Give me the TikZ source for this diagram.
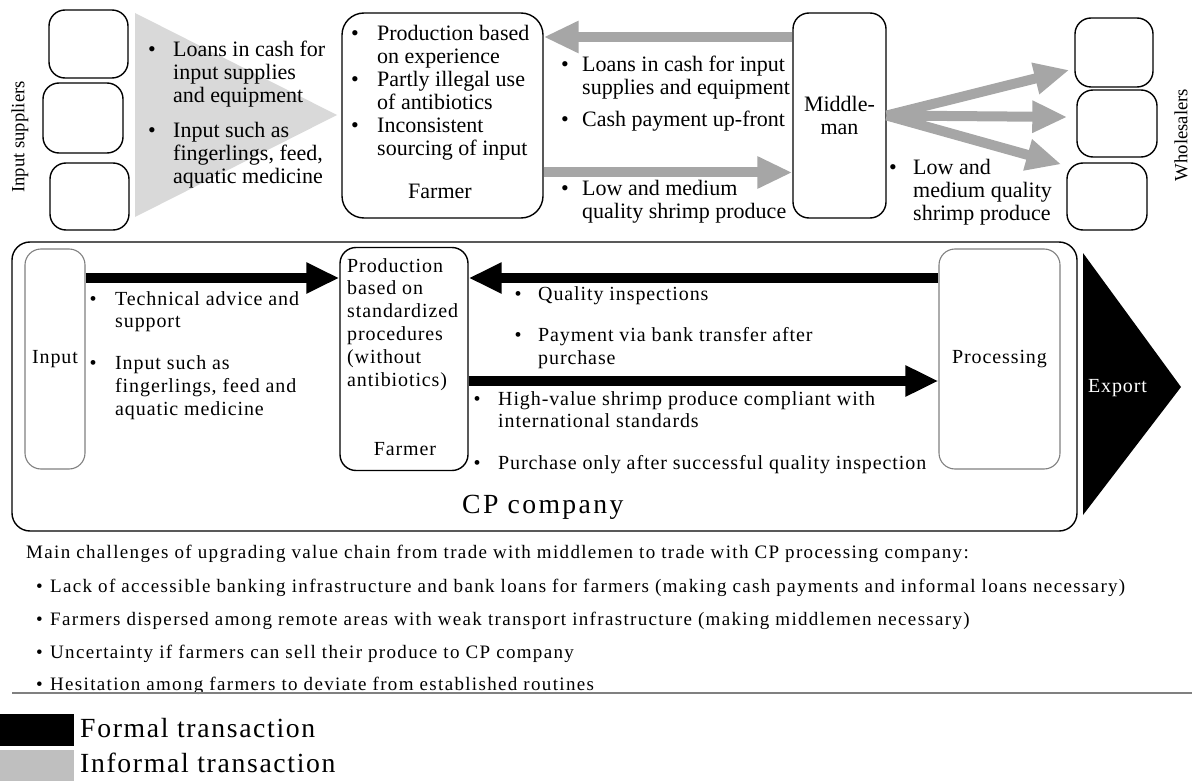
\documentclass[tikz,border=0pt]{standalone}
\usepackage{fontspec}
\setmainfont{Liberation Serif}
\newfontfamily\lowfam[LetterSpace=4.5]{Liberation Serif}
\newfontfamily\botfam[LetterSpace=7]{Liberation Serif}
\newfontfamily\keyfam[LetterSpace=6]{Liberation Serif}
\newfontfamily\cpfam[LetterSpace=8.5]{Liberation Serif}
\usetikzlibrary{arrows.meta}

\definecolor{arrgrey}{HTML}{A6A6A6}
\definecolor{trigrey}{HTML}{D9D9D9}
\definecolor{boxgrey}{HTML}{808080}
\definecolor{keygrey}{HTML}{BFBFBF}

\newlength\bulind
\newcommand\bitem[1]{\par\noindent\hangindent=\bulind\hangafter=1\makebox[\bulind][l]{\textbullet}#1}
\newcommand\bgap[1]{\par\vspace{#1}}
\newcommand\blist[2]{\parbox[t]{520pt}{\setlength\bulind{#1}#2}}

\tikzset{
  box/.style={draw, line width=1.4pt, rounded corners=16pt, inner sep=0pt},
  greybox/.style={box, draw=boxgrey, line width=1.1pt},
  txt/.style={inner sep=0pt, anchor=base west},
  lowfont/.style={font=\lowfam\fontsize{20}{22.8}\selectfont},
  botfont/.style={font=\botfam\fontsize{19}{20}\selectfont},
  keyfont/.style={font=\keyfam\fontsize{27.7}{30}\selectfont},
  sidelabel/.style={rotate=90, inner sep=0pt, font=\fontsize{18.7}{20}\selectfont},
  informal/.style={draw=arrgrey, line width=10pt, -{Triangle[length=35pt,width=30pt]}},
  formal/.style={draw=black, line width=10pt, -{Triangle[length=33pt,width=29pt]}},
}

\begin{document}
\begin{tikzpicture}[x=1pt, y=-1pt, font=\fontsize{22}{23}\selectfont]
\useasboundingbox (0,0) rectangle (1192,781);

% informal trade
\node[box, minimum width=79pt, minimum height=68pt] (is1) at (88.5,44) {};
\node[box, minimum width=80pt, minimum height=70pt] (is2) at (83,118) {};
\node[box, minimum width=79pt, minimum height=67pt] (is3) at (89.5,196.5) {};
\node[sidelabel] (islab) at (20,137) {Input suppliers};

\fill[trigrey] (135,13) -- (337,115) -- (135,217) -- cycle;
\node[txt] (suptxt) at (148,57) {\blist{25pt}{%
  \bitem{Loans in cash for\\input supplies\\and equipment}\bgap{12pt}
  \bitem{Input such as\\fingerlings, feed,\\aquatic medicine}}};

\node[box, rounded corners=22pt, minimum width=201pt, minimum height=205pt] (farm) at (442.5,115.5) {};
\node[txt] (farmtxt) at (351,41) {\blist{26pt}{%
  \bitem{Production based\\on experience}
  \bitem{Partly illegal use\\of antibiotics}
  \bitem{Inconsistent\\sourcing of input}}};
\node[inner sep=0pt, anchor=base] (farmlab) at (440,199) {Farmer};

\node[box, minimum width=93pt, minimum height=205pt, align=center] (mid) at (839.5,115.5) {Middle-\\man};

\node[txt] (loantxt) at (561,72) {\blist{21pt}{%
  \bitem{Loans in cash for input\\supplies and equipment}\bgap{9pt}
  \bitem{Cash payment up-front}}};
\node[txt] (lowtxt) at (561,196) {\blist{21pt}{%
  \bitem{Low and medium\\quality shrimp produce}}};

\node[box, minimum width=78pt, minimum height=69pt] (ws1) at (1114,52.5) {};
\node[box, minimum width=80pt, minimum height=67pt] (ws2) at (1117,123.5) {};
\node[box, minimum width=80pt, minimum height=67pt] (ws3) at (1107,196.5) {};
\node[sidelabel] (wslab) at (1181,135) {Wholesalers};
\node[txt] (selltxt) at (889,175) {\blist{24pt}{%
  \bitem{Low and\\medium quality\\shrimp produce}}};

\draw[informal] ([yshift=78.5pt]mid.west) -- ([yshift=78.5pt]farm.east);
\draw[informal] ([yshift=-57pt]farm.east) -- ([yshift=-57pt]mid.west);
\draw[informal] (mid.east) -- ([shift={(-5pt,-17.5pt)}]ws1.west);
\draw[informal] (mid.east) -- ([shift={(-9pt,6.5pt)}]ws2.west);
\draw[informal] (mid.east) -- ([shift={(-5pt,-2pt)}]ws3.north west);

% formal trade with CP
\node[box, rounded corners=18pt, minimum width=1065pt, minimum height=289pt] (cp) at (544.5,386.5) {};
\node[txt, font=\cpfam\fontsize{27.7}{30}\selectfont] (cplab) at (462,513) {CP company};

\node[greybox, lowfont, minimum width=60pt, minimum height=220pt] (inp) at (55,359) {Input};
\node[box, minimum width=128pt, minimum height=223pt] (farm2) at (404,359) {};
\node[greybox, lowfont, minimum width=121pt, minimum height=220pt] (proc) at (999.5,359) {Processing};

\node[txt, lowfont] (farm2txt) at (347,272) {\parbox[t]{120pt}{Production\\based on\\standardized\\procedures\\(without\\antibiotics)}};
\node[lowfont, inner sep=0pt, anchor=base] (farm2lab) at (405,455) {Farmer};

\draw[formal] ([yshift=81pt]inp.east) -- ([yshift=81pt]farm2.west);
\draw[formal] ([yshift=81pt]proc.west) -- ([yshift=81pt]farm2.east);
\draw[formal] ([yshift=-22pt]farm2.east) -- ([yshift=-22pt]proc.west);

\node[txt, lowfont] (advtxt) at (89.5,305) {\blist{25.5pt}{%
  \bitem{Technical advice and\\support}\bgap{19pt}
  \bitem{Input such as\\fingerlings, feed and\\aquatic medicine}}};
\node[txt, lowfont] (qualtxt) at (514.5,300) {\blist{23.5pt}{%
  \bitem{Quality inspections}\bgap{19pt}
  \bitem{Payment via bank transfer after\\purchase}}};
\node[txt, lowfont] (hvtxt) at (473.5,405) {\blist{24.5pt}{%
  \bitem{High-value shrimp produce compliant with\\international standards}\bgap{19pt}
  \bitem{Purchase only after successful quality inspection}}};

\fill (1083,253) -- (1181,387) -- (1083,515) -- cycle;
\node[lowfont, text=white, anchor=base, inner sep=0pt] (exp) at (1117.5,392) {Export};

% challenges
\node[txt, botfont] (chal) at (26,558) {Main challenges of upgrading value chain from trade with middlemen to trade with CP processing company:};
\node[txt, botfont] (ch1) at (36,592.5) {\makebox[14pt][l]{\textbullet}Lack of accessible banking infrastructure and bank loans for farmers (making cash payments and informal loans necessary)};
\node[txt, botfont] (ch2) at (36,625.5) {\makebox[14pt][l]{\textbullet}Farmers dispersed among remote areas with weak transport infrastructure (making middlemen necessary)};
\node[txt, botfont] (ch3) at (36,658) {\makebox[14pt][l]{\textbullet}Uncertainty if farmers can sell their produce to CP company};
\node[txt, botfont] (ch4) at (36,690) {\makebox[14pt][l]{\textbullet}Hesitation among farmers to deviate from established routines};
\draw[boxgrey, line width=1.5pt] (12,693) -- (1192,693);

% legend
\node[fill=black, minimum width=74pt, minimum height=32pt, inner sep=0pt, anchor=north west] (keyf) at (0,714) {};
\node[fill=keygrey, minimum width=74pt, minimum height=31pt, inner sep=0pt, anchor=north west] (keyi) at (0,750) {};
\node[txt, keyfont] (keyftxt) at (80,737) {Formal transaction};
\node[txt, keyfont] (keyitxt) at (80,772) {Informal transaction};
\end{tikzpicture}
\end{document}
